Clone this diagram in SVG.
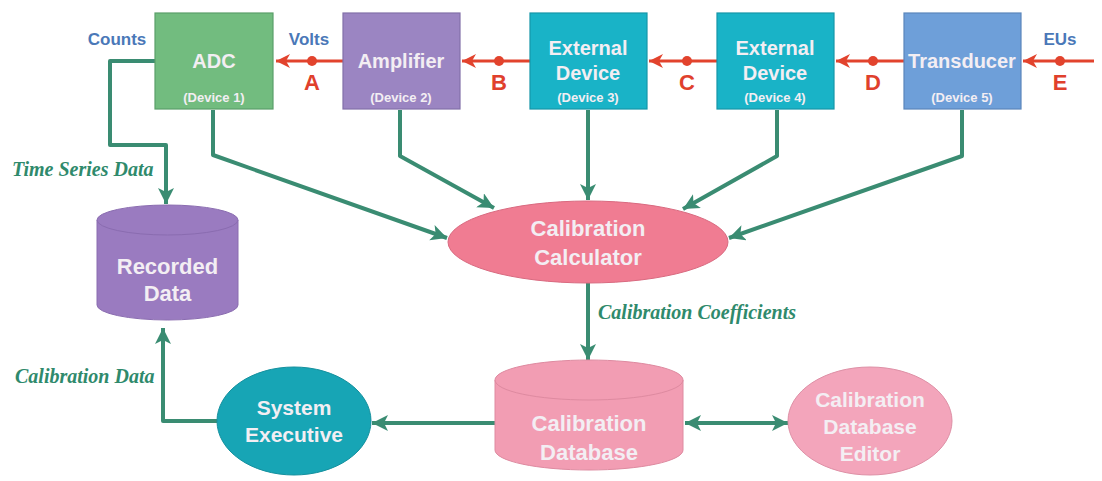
<svg xmlns="http://www.w3.org/2000/svg" width="1102" height="481" viewBox="0 0 1102 481">
<style>
.box{stroke-width:1.2}
.nt{font-family:"Liberation Sans",Arial,sans-serif;font-weight:bold;fill:#f3eef3;text-anchor:middle}
.big{font-size:20px}
.sm{font-size:13px}
.unit{font-family:"Liberation Sans",Arial,sans-serif;font-weight:bold;font-size:17px;fill:#4a78b8;text-anchor:middle}
.let{font-family:"Liberation Sans",Arial,sans-serif;font-weight:bold;font-size:22px;fill:#e0402c;text-anchor:middle}
.lab{font-family:"Liberation Serif","Times New Roman",serif;font-weight:bold;font-style:italic;font-size:20px;fill:#2f8a6c}
.red{stroke:#e2432d;stroke-width:3;fill:none}
.grn{stroke:#3a8c72;stroke-width:4;fill:none;stroke-linejoin:round}
</style>
<defs>
<marker id="ra" markerUnits="userSpaceOnUse" markerWidth="16" markerHeight="16" refX="14" refY="7" orient="auto">
<path d="M0,0 L14,7 L0,14 L4,7 Z" fill="#e2432d"/>
</marker>
<marker id="ga" markerUnits="userSpaceOnUse" markerWidth="18" markerHeight="18" refX="16" refY="8" orient="auto">
<path d="M0,0 L16,8 L0,16 L4,8 Z" fill="#3a8c72"/>
</marker>
<marker id="gs" markerUnits="userSpaceOnUse" markerWidth="18" markerHeight="18" refX="0" refY="8" orient="auto">
<path d="M16,0 L0,8 L16,16 L12,8 Z" fill="#3a8c72"/>
</marker>
</defs>
<rect width="1102" height="481" fill="#ffffff"/>

<g id="connectors">
<line class="red" x1="343" y1="61" x2="276" y2="61" marker-end="url(#ra)"/>
<line class="red" x1="530" y1="61" x2="462" y2="61" marker-end="url(#ra)"/>
<line class="red" x1="717" y1="61" x2="649" y2="61" marker-end="url(#ra)"/>
<line class="red" x1="904" y1="61" x2="836" y2="61" marker-end="url(#ra)"/>
<line class="red" x1="1094" y1="61" x2="1023" y2="61" marker-end="url(#ra)"/>
<circle cx="312" cy="61" r="5" fill="#e2432d"/>
<circle cx="499" cy="61" r="5" fill="#e2432d"/>
<circle cx="687" cy="61" r="5" fill="#e2432d"/>
<circle cx="873" cy="61" r="5" fill="#e2432d"/>
<circle cx="1060" cy="61" r="5" fill="#e2432d"/>
<path class="grn" d="M155,61 H110 V145 H166 V204" marker-end="url(#ga)"/>
<path class="grn" d="M213,110 V155 L447,238" marker-end="url(#ga)"/>
<path class="grn" d="M400,110 V156 L494,208" marker-end="url(#ga)"/>
<path class="grn" d="M588,110 V200" marker-end="url(#ga)"/>
<path class="grn" d="M777,110 V156 L683,209" marker-end="url(#ga)"/>
<path class="grn" d="M962,110 V156 L729,238" marker-end="url(#ga)"/>
<path class="grn" d="M588,283 V360" marker-end="url(#ga)"/>
<path class="grn" d="M495,423 H372" marker-end="url(#ga)"/>
<path class="grn" d="M217,421 H163 V328" marker-end="url(#ga)"/>
<path class="grn" d="M685,423 H788" marker-start="url(#gs)" marker-end="url(#ga)"/>
</g>

<g id="labels">
<text class="unit" x="117" y="45">Counts</text>
<text class="unit" x="309" y="45">Volts</text>
<text class="unit" x="1060" y="45">EUs</text>
<text class="let" x="312" y="90">A</text>
<text class="let" x="499" y="90">B</text>
<text class="let" x="687" y="90">C</text>
<text class="let" x="873" y="90">D</text>
<text class="let" x="1060" y="90">E</text>
<text class="lab" x="12" y="176">Time Series Data</text>
<text class="lab" x="598" y="319">Calibration Coefficients</text>
<text class="lab" x="15" y="383">Calibration Data</text>
</g>

<g id="adc">
<rect class="box" x="155" y="13" width="118" height="96" fill="#72bc7f" stroke="#5b9f69"/>
<text class="nt big" x="214" y="68">ADC</text>
<text class="nt sm" x="214" y="102">(Device 1)</text>
</g>
<g id="amplifier">
<rect class="box" x="343" y="13" width="117" height="96" fill="#9b85c2" stroke="#8270a8"/>
<text class="nt big" x="401" y="68">Amplifier</text>
<text class="nt sm" x="401" y="102">(Device 2)</text>
</g>
<g id="ext3">
<rect class="box" x="530" y="13" width="117" height="96" fill="#19b3c7" stroke="#1596a8"/>
<text class="nt big" x="588" y="55">External</text>
<text class="nt big" x="588" y="80">Device</text>
<text class="nt sm" x="588" y="102">(Device 3)</text>
</g>
<g id="ext4">
<rect class="box" x="717" y="13" width="117" height="96" fill="#19b3c7" stroke="#1596a8"/>
<text class="nt big" x="775" y="55">External</text>
<text class="nt big" x="775" y="80">Device</text>
<text class="nt sm" x="775" y="102">(Device 4)</text>
</g>
<g id="transducer">
<rect class="box" x="904" y="13" width="117" height="96" fill="#6e9fd9" stroke="#5a86bb"/>
<text class="nt big" x="962" y="68">Transducer</text>
<text class="nt sm" x="962" y="102">(Device 5)</text>
</g>

<g id="recorded">
<path d="M97,220 V305 A70.5,15 0 0 0 238,305 V220" fill="#9a7bc0" stroke="#8a6cb0" stroke-width="1"/>
<ellipse cx="167.5" cy="220" rx="70.5" ry="15" fill="#9a7bc0" stroke="#8a6cb0" stroke-width="1"/>
<text class="nt" font-size="22" x="167.5" y="274">Recorded</text>
<text class="nt" font-size="22" x="167.5" y="301">Data</text>
</g>

<g id="calculator">
<ellipse cx="588" cy="242" rx="140" ry="41" fill="#f07c92" stroke="#d96a80" stroke-width="1"/>
<text class="nt" font-size="22" x="588" y="236">Calibration</text>
<text class="nt" font-size="22" x="588" y="265">Calculator</text>
</g>

<g id="database">
<path d="M495,380 V450 A94,20 0 0 0 683,450 V380" fill="#f29db3" stroke="#de8aa0" stroke-width="1"/>
<ellipse cx="589" cy="380" rx="94" ry="20" fill="#f29db3" stroke="#de8aa0" stroke-width="1"/>
<text class="nt" font-size="22" x="589" y="431">Calibration</text>
<text class="nt" font-size="22" x="589" y="460">Database</text>
</g>

<g id="executive">
<ellipse cx="294" cy="421" rx="77" ry="54" fill="#17a5b5" stroke="#14909e" stroke-width="1"/>
<text class="nt" font-size="21" x="294" y="415">System</text>
<text class="nt" font-size="21" x="294" y="442">Executive</text>
</g>

<g id="editor">
<ellipse cx="870" cy="421" rx="82" ry="54" fill="#f3a5bb" stroke="#de90a6" stroke-width="1"/>
<text class="nt" font-size="21" x="870" y="407">Calibration</text>
<text class="nt" font-size="21" x="870" y="434">Database</text>
<text class="nt" font-size="21" x="870" y="461">Editor</text>
</g>
</svg>
